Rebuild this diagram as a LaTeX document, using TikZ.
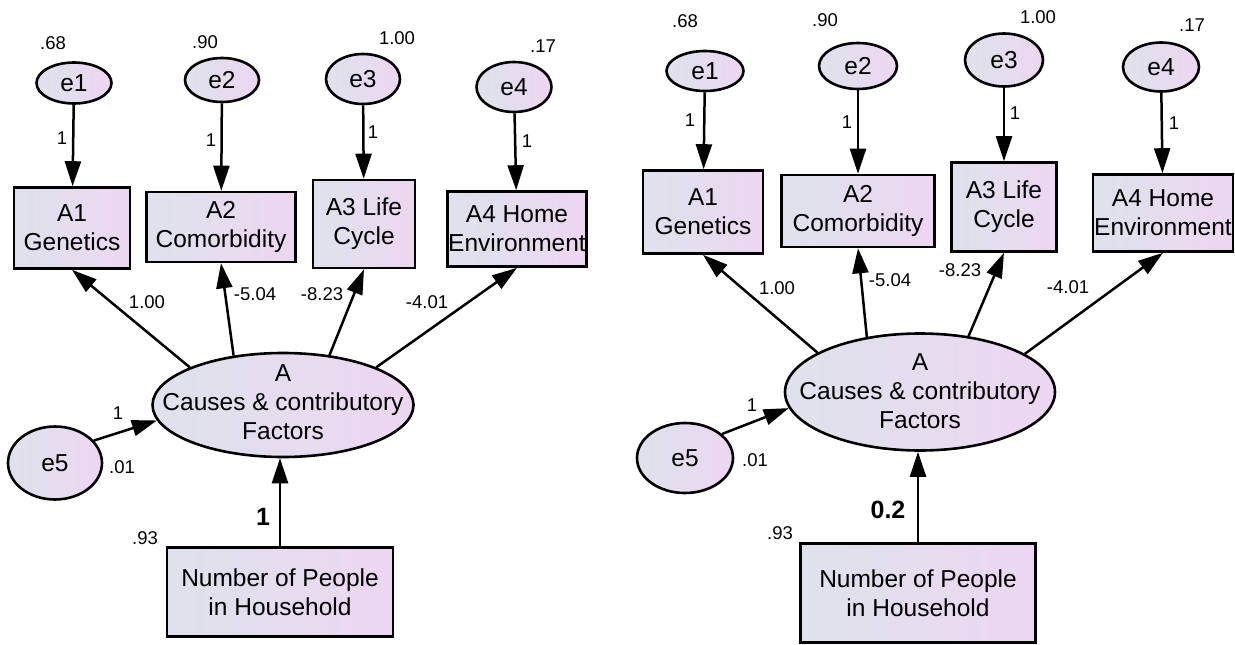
\documentclass[tikz,border=0pt]{standalone}
\usepackage{fontspec}
\setmainfont{Liberation Sans}
\usetikzlibrary{arrows.meta,shapes.geometric,calc}
\definecolor{shadeL}{HTML}{DEE2EC}
\definecolor{shadeR}{HTML}{EDD6F1}
\tikzset{
  every node/.style={font=\fontsize{24.5}{29}\selectfont, align=center, inner sep=0pt},
  obs/.style={draw, line width=2.6pt, rectangle, left color=shadeL, right color=shadeR},
  lat/.style={draw, line width=2.6pt, ellipse, left color=shadeL, right color=shadeR},
  est/.style={font=\fontsize{18.5}{22}\selectfont},
  coef/.style={font=\fontsize{25}{29}\bfseries\selectfont},
  patharrow/.style={line width=2.5pt, -{Triangle[length=25pt,width=16pt]}},
}
\begin{document}
\begin{tikzpicture}[x=1pt,y=-1pt]
\fill[white] (0,0) rectangle (1235,645);
\useasboundingbox (0,0) rectangle (1235,645);

% ---------------- left model ----------------
\node[lat, minimum width=75, minimum height=41] (Le1) at (74,83) {e1};
\node[lat, minimum width=74, minimum height=44] (Le2) at (222,80) {e2};
\node[lat, minimum width=74, minimum height=50] (Le3) at (363,79) {e3};
\node[lat, minimum width=75, minimum height=50] (Le4) at (514,87) {e4};
\node[est] (Lv1) at (53,43) {.68};
\node[est] (Lv2) at (205,42) {.90};
\node[est] (Lv3) at (397,38) {1.00};
\node[est] (Lv4) at (543,46) {.17};

\node[obs, minimum width=116, minimum height=81] (LA1) at (72,228) {A1\\Genetics};
\node[obs, minimum width=149, minimum height=70] (LA2) at (221,227) {A2\\Comorbidity};
\node[obs, minimum width=102, minimum height=88] (LA3) at (364,224) {A3 Life\\Cycle};
\node[obs, minimum width=139, minimum height=75] (LA4) at (517,229) {A4 Home\\Environment};

\node[lat, minimum width=261, minimum height=104] (LA) at (283,405) {};
\node (LAt) at (283,402) {A\\Causes \& contributory\\Factors};
\node[lat, minimum width=94, minimum height=73] (Le5) at (55,463) {e5};
\node[obs, minimum width=226, minimum height=89] (LN) at (280,592) {Number of People\\in Household};

\draw[patharrow] (Le1) -- (LA1);
\draw[patharrow] (Le2) -- (LA2);
\draw[patharrow] (Le3) -- (LA3);
\draw[patharrow] (Le4) -- (LA4);
\node[est] (Lw1) at (62,138) {1};
\node[est] (Lw2) at (211,140) {1};
\node[est] (Lw3) at (373,132) {1};
\node[est] (Lw4) at (527,141) {1};

\draw[patharrow] (LA.158.8) -- (LA1.south);
\draw[patharrow] (LA.135.6) -- (LA2.south);
\draw[patharrow] (LA.47.2) -- (LA3.south);
\draw[patharrow] (LA.22.5) -- (LA4.south);
\node[est] (Ll1) at (147,302) {1.00};
\node[est] (Ll2) at (255,294) {-5.04};
\node[est] (Ll3) at (322,294) {-8.23};
\node[est] (Ll4) at (427,302) {-4.01};

\draw[patharrow] (Le5.30) -- (LA.187);
\node[est] (Lw5) at (118,413) {1};
\node[est] (Lv5) at (122,467) {.01};

\draw[patharrow] (LN.north) -- (LN.north |- LA.south);
\node[coef] (Lb) at (263,517) {1};
\node[est] (Lvn) at (145,538) {.93};

% ---------------- right model ----------------
\node[lat, minimum width=77, minimum height=40] (Re1) at (705,71) {e1};
\node[lat, minimum width=78, minimum height=46] (Re2) at (858,66) {e2};
\node[lat, minimum width=78, minimum height=53] (Re3) at (1004,60) {e3};
\node[lat, minimum width=76, minimum height=49] (Re4) at (1161,67) {e4};
\node[est] (Rv1) at (685,21) {.68};
\node[est] (Rv2) at (825,20) {.90};
\node[est] (Rv3) at (1038,17) {1.00};
\node[est] (Rv4) at (1192,25) {.17};

\node[obs, minimum width=120, minimum height=83] (RA1) at (703,212) {A1\\Genetics};
\node[obs, minimum width=153, minimum height=72] (RA2) at (858,211) {A2\\Comorbidity};
\node[obs, minimum width=105, minimum height=89] (RA3) at (1004,207) {A3 Life\\Cycle};
\node[obs, minimum width=140, minimum height=77] (RA4) at (1163,213) {A4 Home\\Environment};

\node[lat, minimum width=270, minimum height=117] (RA) at (920,392) {};
\node (RAt) at (920,391) {A\\Causes \& contributory\\Factors};
\node[lat, minimum width=96, minimum height=70] (Re5) at (685,458) {e5};
\node[obs, minimum width=235, minimum height=99] (RN) at (918,593) {Number of People\\in Household};

\draw[patharrow] (Re1) -- (RA1);
\draw[patharrow] (Re2) -- (RA2);
\draw[patharrow] (Re3) -- (RA3);
\draw[patharrow] (Re4) -- (RA4);
\node[est] (Rw1) at (690,120) {1};
\node[est] (Rw2) at (847,122) {1};
\node[est] (Rw3) at (1015,113) {1};
\node[est] (Rw4) at (1174,123) {1};

\draw[patharrow] (RA.159.7) -- (RA1.south);
\draw[patharrow] (RA.134) -- (RA2.south);
\draw[patharrow] (RA.49) -- (RA3.south);
\draw[patharrow] (RA.20.5) -- (RA4.south);
\node[est] (Rl1) at (777,288) {1.00};
\node[est] (Rl2) at (890,280) {-5.04};
\node[est] (Rl3) at (960,270) {-8.23};
\node[est] (Rl4) at (1068,287) {-4.01};

\draw[patharrow] (Re5.33) -- (RA.187.8);
\node[est] (Rw5) at (752,405) {1};
\node[est] (Rv5) at (755,460) {.01};

\draw[patharrow] (RN.north) -- (RN.north |- RA.south);
\node[coef] (Rb) at (888,510) {0.2};
\node[est] (Rvn) at (780,533) {.93};
\end{tikzpicture}
\end{document}
